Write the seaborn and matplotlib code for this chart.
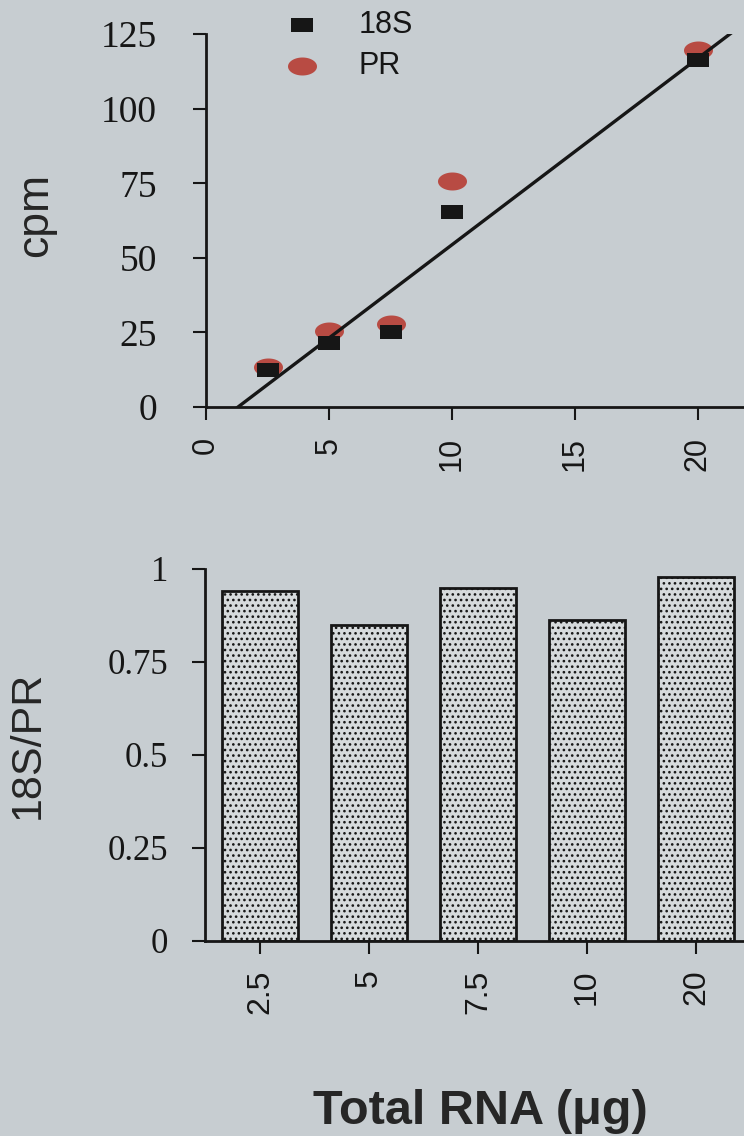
import numpy as np
import pandas as pd
import matplotlib
matplotlib.use("Agg")
import matplotlib.pyplot as plt
import seaborn as sns

# ---- data ----
rna_ug = [2.5, 5, 7.5, 10, 20]
cpm_18s = [12.4, 21.4, 25.1, 65.5, 116.3]
cpm_pr = [13.5, 25.6, 27.8, 75.7, 119.6]
ratio_labels = ["2.5", "5", "7.5", "10", "20"]
ratio_values = [0.941, 0.849, 0.949, 0.863, 0.978]
cpm_ticks = [0, 25, 50, 75, 100, 125]
rna_ticks = [0, 5, 10, 15, 20]
ratio_ticks = [0, 0.25, 0.5, 0.75, 1]
ratio_ticklabels = ["0", "0.25", "0.5", "0.75", "1"]

BG = "#c7cdd1"
INK = "#161616"
RED = "#b84b43"

sns.set_style("ticks")
plt.rcParams["font.family"] = ["Liberation Sans", "DejaVu Sans"]
plt.rcParams["hatch.linewidth"] = 1.1
plt.rcParams["axes.edgecolor"] = INK
plt.rcParams["xtick.color"] = INK
plt.rcParams["ytick.color"] = INK
plt.rcParams["text.color"] = INK

fig = plt.figure(figsize=(7.44, 11.36), dpi=100, facecolor=BG)
ax1 = fig.add_axes([0.2769, 0.6417, 0.7231, 0.3283], facecolor=BG)
ax2 = fig.add_axes([0.2755, 0.1717, 0.7245, 0.3275], facecolor=BG)

# ---- top scatter panel ----
df = pd.DataFrame({"rna": rna_ug, "s18": cpm_18s, "pr": cpm_pr})
ax1.set_xlim(0, 21.87)
ax1.set_ylim(0, 125)

rect = [(-11, -7), (11, -7), (11, 7), (-11, 7), (-11, -7)]
theta = np.linspace(0, 2 * np.pi, 60)
ellipse = list(zip(14.5 * np.cos(theta), 9 * np.sin(theta)))

sns.scatterplot(data=df, x="rna", y="pr", ax=ax1, marker=ellipse, s=436,
                color=RED, linewidth=0, label="PR", zorder=3)
sns.scatterplot(data=df, x="rna", y="s18", ax=ax1, marker=rect, s=250,
                color=INK, linewidth=0, label="18S", zorder=4)
sns.regplot(data=df, x="rna", y="s18", ax=ax1, ci=None, truncate=False,
            scatter=False, line_kws=dict(color=INK, lw=2.4, zorder=5))
ax1.set_xlim(0, 21.87)
ax1.set_ylim(0, 125)

handles, labels = ax1.get_legend_handles_labels()
order = [labels.index("18S"), labels.index("PR")]
ax1.legend([handles[i] for i in order], [labels[i] for i in order],
           loc="upper left", bbox_to_anchor=(279 / 744, 1 - 10 / 1136),
           bbox_transform=fig.transFigure, frameon=False, fontsize=22,
           borderpad=0, borderaxespad=0, handlelength=1.5,
           handletextpad=1.1, labelspacing=0.36)

ax1.set_xticks(rna_ticks)
ax1.set_yticks(cpm_ticks)
ax1.tick_params(axis="y", labelsize=27, pad=26, length=9.4, width=1.5,
                labelfontfamily="Liberation Serif")
ax1.tick_params(axis="x", labelsize=22, pad=12, length=9.4, width=1.5,
                labelrotation=90)
ax1.set_xlabel("")
ax1.set_ylabel("cpm", fontsize=32, va="center")
ax1.yaxis.set_label_coords(-0.316, 0.515)

# ---- bottom bar panel ----
dfb = pd.DataFrame({"rna": ratio_labels, "ratio": ratio_values})
sns.barplot(data=dfb, x="rna", y="ratio", ax=ax2, color="#d6dadc",
            saturation=1, width=0.69, edgecolor=INK, linewidth=2.0)
for bar in ax2.patches:
    bar.set_hatch("...")
    bar.set_facecolor("#d6dadc")
    bar.set_edgecolor(INK)
ax2.set_xlim(-0.505, 4.44)
ax2.set_ylim(0, 1)
ax2.set_yticks(ratio_ticks)
ax2.set_yticklabels(ratio_ticklabels)
ax2.tick_params(axis="y", labelsize=25, pad=17, length=9.4, width=1.5,
                labelfontfamily="Liberation Serif")
ax2.tick_params(axis="x", labelsize=23, pad=11, length=9.4, width=1.5,
                labelrotation=90)
ax2.set_ylabel("18S/PR", fontsize=31, va="center")
ax2.yaxis.set_label_coords(-0.328, 0.527)
ax2.set_xlabel("Total RNA (\u03bcg)", fontsize=35, fontweight="bold",
               va="baseline")
ax2.xaxis.set_label_coords(0.51, -0.492)

for ax in (ax1, ax2):
    sns.despine(ax=ax)
    for sp in ("left", "bottom"):
        ax.spines[sp].set_linewidth(2.0)

fig.savefig("out.png", dpi=100, facecolor=BG)
